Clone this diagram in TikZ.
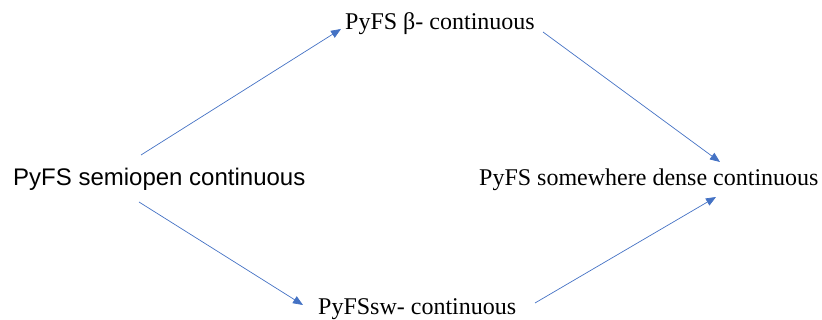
\documentclass[tikz,border=0pt]{standalone}
\usepackage{fontspec}
\setmainfont{Liberation Serif}
\newfontfamily\arialfont{Liberation Sans}
\usetikzlibrary{arrows.meta}
\definecolor{arrowblue}{HTML}{4472C4}
\tikzset{
  lbl/.style={inner sep=0pt, anchor=base west, font=\fontsize{24}{26}\selectfont},
  conn/.style={draw=arrowblue, line width=0.7pt, -{Triangle[length=10pt,width=8pt]}}
}
\begin{document}
\begin{tikzpicture}[x=1pt,y=1pt]
\useasboundingbox (0,0) rectangle (822,320);
\node[lbl] (top) at (345,290) {PyFS β- continuous};
\node[lbl, font=\arialfont\fontsize{24}{26}\selectfont] (left) at (13,134) {PyFS semiopen continuous};
\node[lbl] (right) at (479,134) {PyFS somewhere dense continuous};
\node[lbl] (bottom) at (318,5) {PyFSsw- continuous};
\coordinate (s1) at (141,165);
\coordinate (e1) at (341,291);
\coordinate (s2) at (543,288);
\coordinate (e2) at (720,158);
\coordinate (s3) at (139,118);
\coordinate (e3) at (303,15);
\coordinate (s4) at (535,17);
\coordinate (e4) at (716,123);
\draw[conn] (s1) -- (e1);
\draw[conn] (s2) -- (e2);
\draw[conn] (s3) -- (e3);
\draw[conn] (s4) -- (e4);
\end{tikzpicture}
\end{document}
